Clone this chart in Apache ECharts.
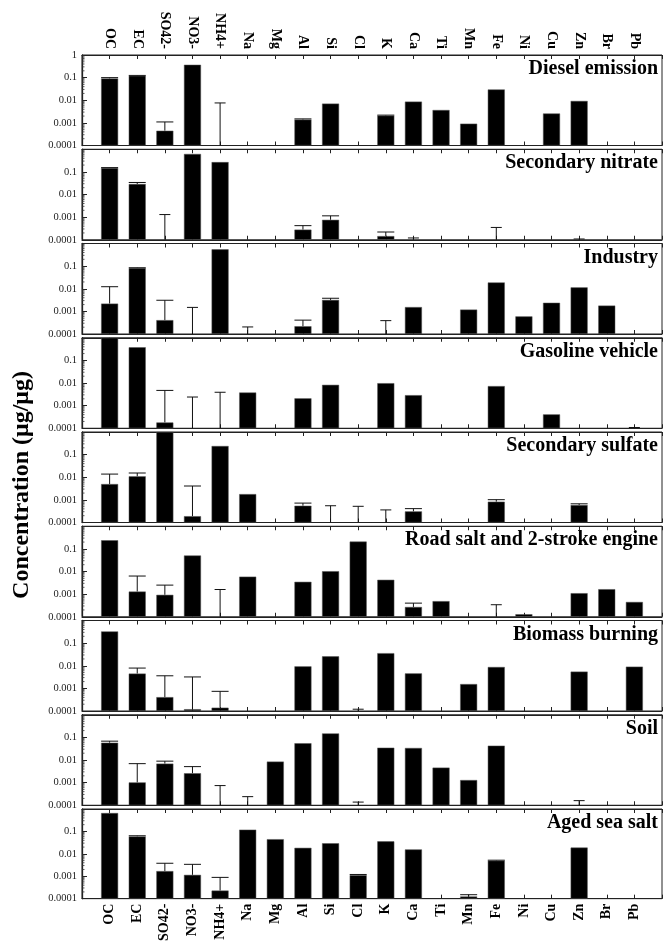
<!DOCTYPE html>
<html>
<head>
<meta charset="utf-8">
<script src="https://cdn.jsdelivr.net/npm/echarts@6/dist/echarts.min.js"></script>
<style>html,body{margin:0;padding:0;background:#fff}#c{width:664px;height:944px}</style>
</head>
<body>
<div id="c"></div>
<script>
const categories = ['OC','EC','SO42-','NO3-','NH4+','Na','Mg','Al','Si','Cl','K','Ca','Ti','Mn','Fe','Ni','Cu','Zn','Br','Pb'];
const panelNames = ['Diesel emission','Secondary nitrate','Industry','Gasoline vehicle','Secondary sulfate','Road salt and 2-stroke engine','Biomass burning','Soil','Aged sea salt'];
const yTickLabels = ['1','0.1','0.01','0.001','0.0001'];

// values (null = no visible bar) and upper error limits (null = none)
const dieselVal = [0.092,0.12,0.00045,0.37,null,null,null,0.0014,0.0071,null,0.0021,0.0087,0.0037,0.00092,0.030,null,0.0026,0.0093,null,null];
const dieselErr = [0.10,0.125,0.0011,null,0.0076,null,null,0.0015,null,null,0.0022,null,null,null,null,null,null,null,null,null];

const nitrateVal = [0.15,0.029,null,0.62,0.27,null,null,0.00028,0.00076,null,0.000145,null,null,null,null,null,null,null,null,null];
const nitrateErr = [0.155,0.034,0.0013,null,null,null,null,0.00042,0.00114,null,0.00022,0.00012,null,null,0.00035,null,null,0.000108,null,null];

const industryVal = [0.0022,0.082,0.00041,null,0.55,null,null,0.00022,0.0032,null,null,0.00155,null,0.0012,0.019,0.0006,0.0024,0.0115,0.0018,null];
const industryErr = [0.0123,0.085,0.0031,0.0015,null,0.000205,null,0.00041,0.0038,null,0.00039,null,null,null,null,null,null,null,null,null];

const gasolineVal = [1,0.38,0.00018,null,null,0.0038,null,0.0021,0.0083,null,0.0098,0.0029,null,null,0.0073,null,0.00041,null,null,null];
const gasolineErr = [null,null,0.0047,0.0024,0.0039,null,null,null,null,null,null,null,null,null,null,null,null,null,null,0.000108];

const sulfateVal = [0.005,0.011,1,0.00019,0.24,0.0018,null,0.00055,null,null,null,0.00031,null,null,0.00083,null,null,0.00059,null,null];
const sulfateErr = [0.0138,0.0154,null,0.0041,null,null,null,0.00072,0.00055,0.00052,0.00036,0.00041,null,null,0.00102,null,null,0.00067,null,null];

const roadVal = [0.24,0.0013,0.00093,0.051,null,0.0059,null,0.0035,0.0103,0.21,0.0043,0.00027,0.00049,null,null,0.000129,null,0.0011,0.00165,0.00045];
const roadErr = [null,0.0063,0.0025,null,0.0016,null,null,null,null,null,null,0.0004,null,null,0.00034,null,null,null,null,null];

const biomassVal = [0.33,0.0045,0.00041,0.00012,0.00014,null,null,0.0094,0.026,null,0.036,0.0046,null,0.00155,0.0088,null,null,0.0055,null,0.0091];
const biomassErr = [null,0.0079,0.0036,0.0032,0.00074,null,null,null,null,0.00012,null,null,null,null,null,null,null,null,null,null];

const soilVal = [0.058,0.00102,0.0069,0.0026,null,null,0.0085,0.055,0.15,null,0.035,0.034,0.0046,0.0013,0.043,null,null,null,null,null];
const soilErr = [0.068,0.0069,0.0089,0.0051,0.00074,0.00024,null,null,null,0.000138,null,null,null,null,null,null,null,0.00016,null,null];

const seaVal = [0.66,0.060,0.0017,0.00115,0.00023,0.12,0.045,0.0185,0.0296,0.00112,0.036,0.0157,null,0.000125,0.005,null,null,0.019,null,null];
const seaErr = [null,0.064,0.0038,0.0034,0.00089,null,null,null,null,0.0012,null,null,null,0.00015,0.0052,null,null,null,null,null];

const panelVals = [dieselVal,nitrateVal,industryVal,gasolineVal,sulfateVal,roadVal,biomassVal,soilVal,seaVal];
const panelErrs = [dieselErr,nitrateErr,industryErr,gasolineErr,sulfateErr,roadErr,biomassErr,soilErr,seaErr];

const minorTickVals = [];
[-4,-3,-2,-1].forEach(e => { for (let k = 2; k <= 9; k++) minorTickVals.push(k * Math.pow(10, e)); });

const FONT = 'Liberation Serif';
const YMIN = 0.0001, YMAX = 1;
const TOP0 = 55, PITCH = 94.25, H = 90.5;

const grids = [], xAxes = [], yAxes = [], series = [], titles = [];
const catLabel = v => { const i = Math.round(v); return (i >= 1 && i <= categories.length) ? categories[i - 1] : ''; };

for (let i = 0; i < 9; i++) {
  const top = TOP0 + i * PITCH;
  grids.push({left: 82, right: 2, top: top, height: H, show: true, borderColor: '#222', borderWidth: 1, backgroundColor: 'transparent'});
  const baseX = {
    type: 'value', gridIndex: i, min: 0, max: 21, interval: 1,
    axisLine: {show: true, onZero: false, lineStyle: {color: '#222', width: 1}},
    axisTick: {show: true, inside: true, length: 4, lineStyle: {color: '#222'}},
    splitLine: {show: false},
    axisLabel: {show: false}
  };
  xAxes.push(Object.assign({}, baseX, {
    position: 'bottom',
    axisLabel: {show: i === 8, rotate: 90, margin: 5, formatter: catLabel, fontFamily: FONT, fontWeight: 'bold', fontSize: 14, color: '#000', showMinLabel: true, showMaxLabel: true}
  }));
  xAxes.push(Object.assign({}, baseX, {
    position: 'top',
    axisLabel: {show: i === 0, rotate: 90, margin: 6, formatter: catLabel, fontFamily: FONT, fontWeight: 'bold', fontSize: 14, color: '#000', showMinLabel: true, showMaxLabel: true}
  }));
  yAxes.push({
    type: 'log', logBase: 10, gridIndex: i, min: YMIN, max: YMAX, startValue: YMIN,
    axisLine: {show: true, lineStyle: {color: '#222', width: 1.3}},
    axisTick: {show: true, inside: true, length: 5, lineStyle: {color: '#222'}},
    splitLine: {show: false},
    axisLabel: {
      margin: 5, fontFamily: FONT, fontSize: 10.5, color: '#222',
      formatter: (v) => { const e = Math.round(Math.log10(v)); if (e === 0 && i !== 0) return ''; return yTickLabels[-e] || ''; }
    }
  });
  const vals = panelVals[i], errs = panelErrs[i];
  series.push({
    type: 'bar', xAxisIndex: 2 * i + 0, yAxisIndex: i, barWidth: 17, clip: true,
    itemStyle: {color: '#000', borderColor: '#555', borderWidth: 0.5},
    data: vals.map((v, j) => v == null ? null : [j + 1, v]).filter(d => d),
    silent: true, animation: false
  });
  series.push({
    type: 'custom', xAxisIndex: 2 * i, yAxisIndex: i, clip: true, silent: true, animation: false,
    data: errs.map((e, j) => e == null ? null : [j + 1, vals[j] == null ? 0 : vals[j], e]).filter(d => d),
    renderItem: (params, api) => {
      const x = api.value(0), v = api.value(1), e = api.value(2);
      const hasBar = v >= YMIN;
      const p0 = api.coord([x, hasBar ? v : YMIN]);
      const p1 = api.coord([x, e]);
      const hw = hasBar ? 8.5 : 5.5;
      const st = {stroke: '#111', lineWidth: 1};
      return {type: 'group', children: [
        {type: 'line', shape: {x1: p0[0], y1: p0[1], x2: p1[0], y2: p1[1]}, style: st},
        {type: 'line', shape: {x1: p1[0] - hw, y1: p1[1], x2: p1[0] + hw, y2: p1[1]}, style: st}
      ]};
    }
  });
  series.push({
    type: 'custom', xAxisIndex: 2 * i, yAxisIndex: i, silent: true, animation: false,
    data: minorTickVals.map(v => [0, v]),
    renderItem: (params, api) => {
      const p = api.coord([api.value(0), api.value(1)]);
      return {type: 'line', shape: {x1: p[0], y1: p[1], x2: p[0] + 2.5, y2: p[1]}, style: {stroke: '#333', lineWidth: 0.8}};
    }
  });
  titles.push({
    text: panelNames[i], right: 6, top: top + 4, padding: 0,
    textStyle: {fontFamily: FONT, fontWeight: 'bold', fontSize: 20, color: '#000'}
  });
}

const chart = echarts.init(document.getElementById('c'), null, {renderer: 'canvas'});
chart.setOption({
  backgroundColor: '#fff',
  animation: false,
  title: titles,
  grid: grids,
  xAxis: xAxes,
  yAxis: yAxes,
  series: series,
  graphic: [{
    type: 'text', x: 22, y: 485, rotation: Math.PI / 2,
    style: {text: 'Concentration (μg/μg)', font: 'bold 24px "Liberation Serif"', textAlign: 'center', textVerticalAlign: 'middle', fill: '#000'}
  }]
});
</script>
</body>
</html>
